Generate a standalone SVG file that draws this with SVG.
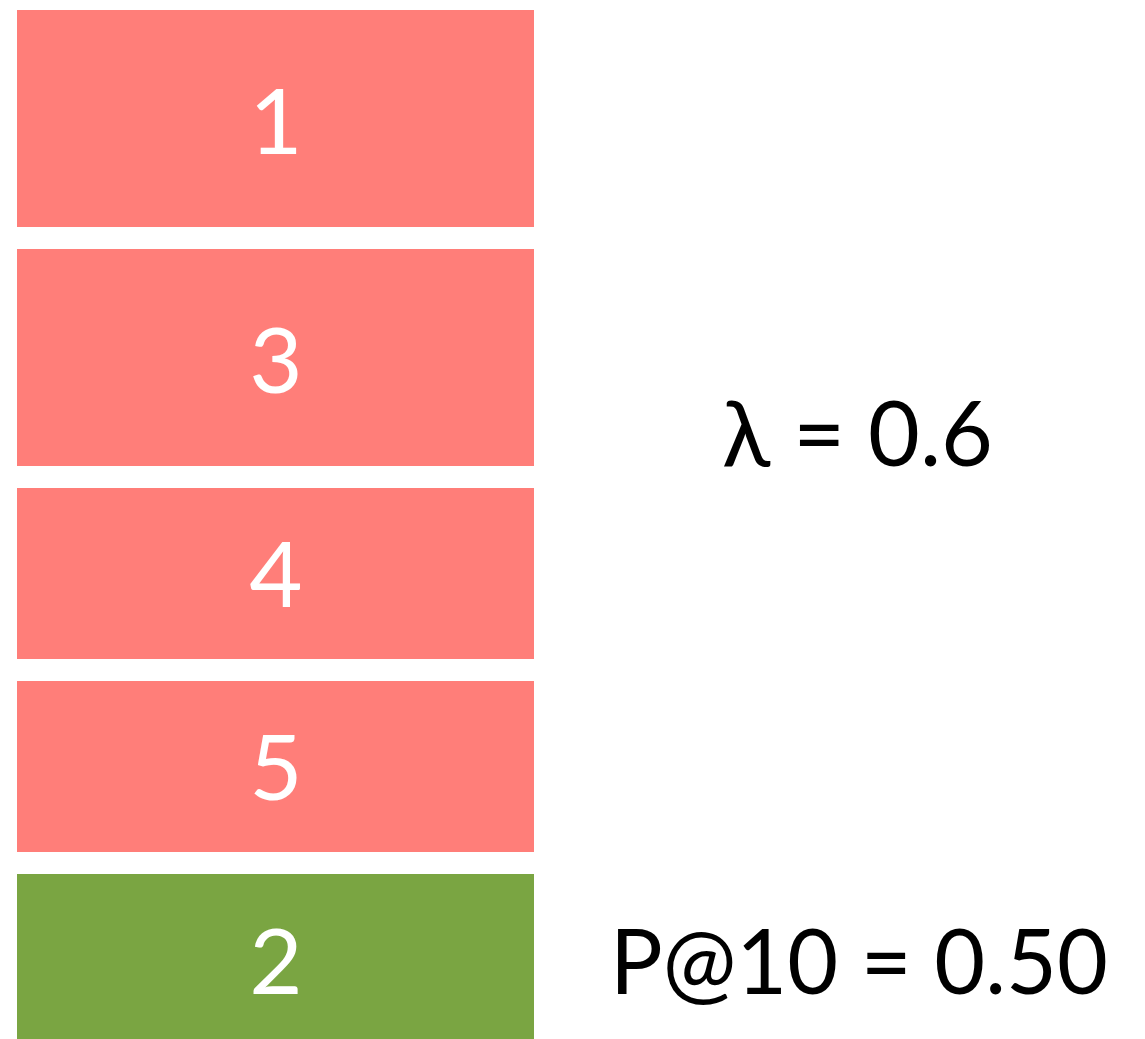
<svg xmlns="http://www.w3.org/2000/svg" width="1145" height="1039" viewBox="0 0 1145 1039">
<style>
.red{fill:#FF7E79}
.green{fill:#7AA542}
.lbl{font-family:"Lato","Open Sans",sans-serif;font-size:92px;fill:#fff;text-anchor:middle}
.side{font-family:"Lato","Open Sans",sans-serif;font-size:92px;fill:#000}
</style>
<rect width="1145" height="1039" fill="#fff"/>
<g id="node1"><rect class="red" x="17" y="10" width="517" height="217"/><text class="lbl" x="276" y="154">1</text></g>
<g id="node3"><rect class="red" x="17" y="249" width="517" height="217"/><text class="lbl" x="276" y="393">3</text></g>
<g id="node4"><rect class="red" x="17" y="488" width="517" height="171"/><text class="lbl" x="276" y="607">4</text></g>
<g id="node5"><rect class="red" x="17" y="681" width="517" height="171"/><text class="lbl" x="276" y="800">5</text></g>
<g id="node2"><rect class="green" x="17" y="874" width="517" height="165"/><text class="lbl" x="276" y="994">2</text></g>
<g id="connectors"/>
<g id="labels">
<text class="side" x="722" y="466" textLength="271" lengthAdjust="spacingAndGlyphs">λ = 0.6</text>
<text class="side" x="610" y="994" textLength="498" lengthAdjust="spacingAndGlyphs">P@10 = 0.50</text>
</g>
</svg>
